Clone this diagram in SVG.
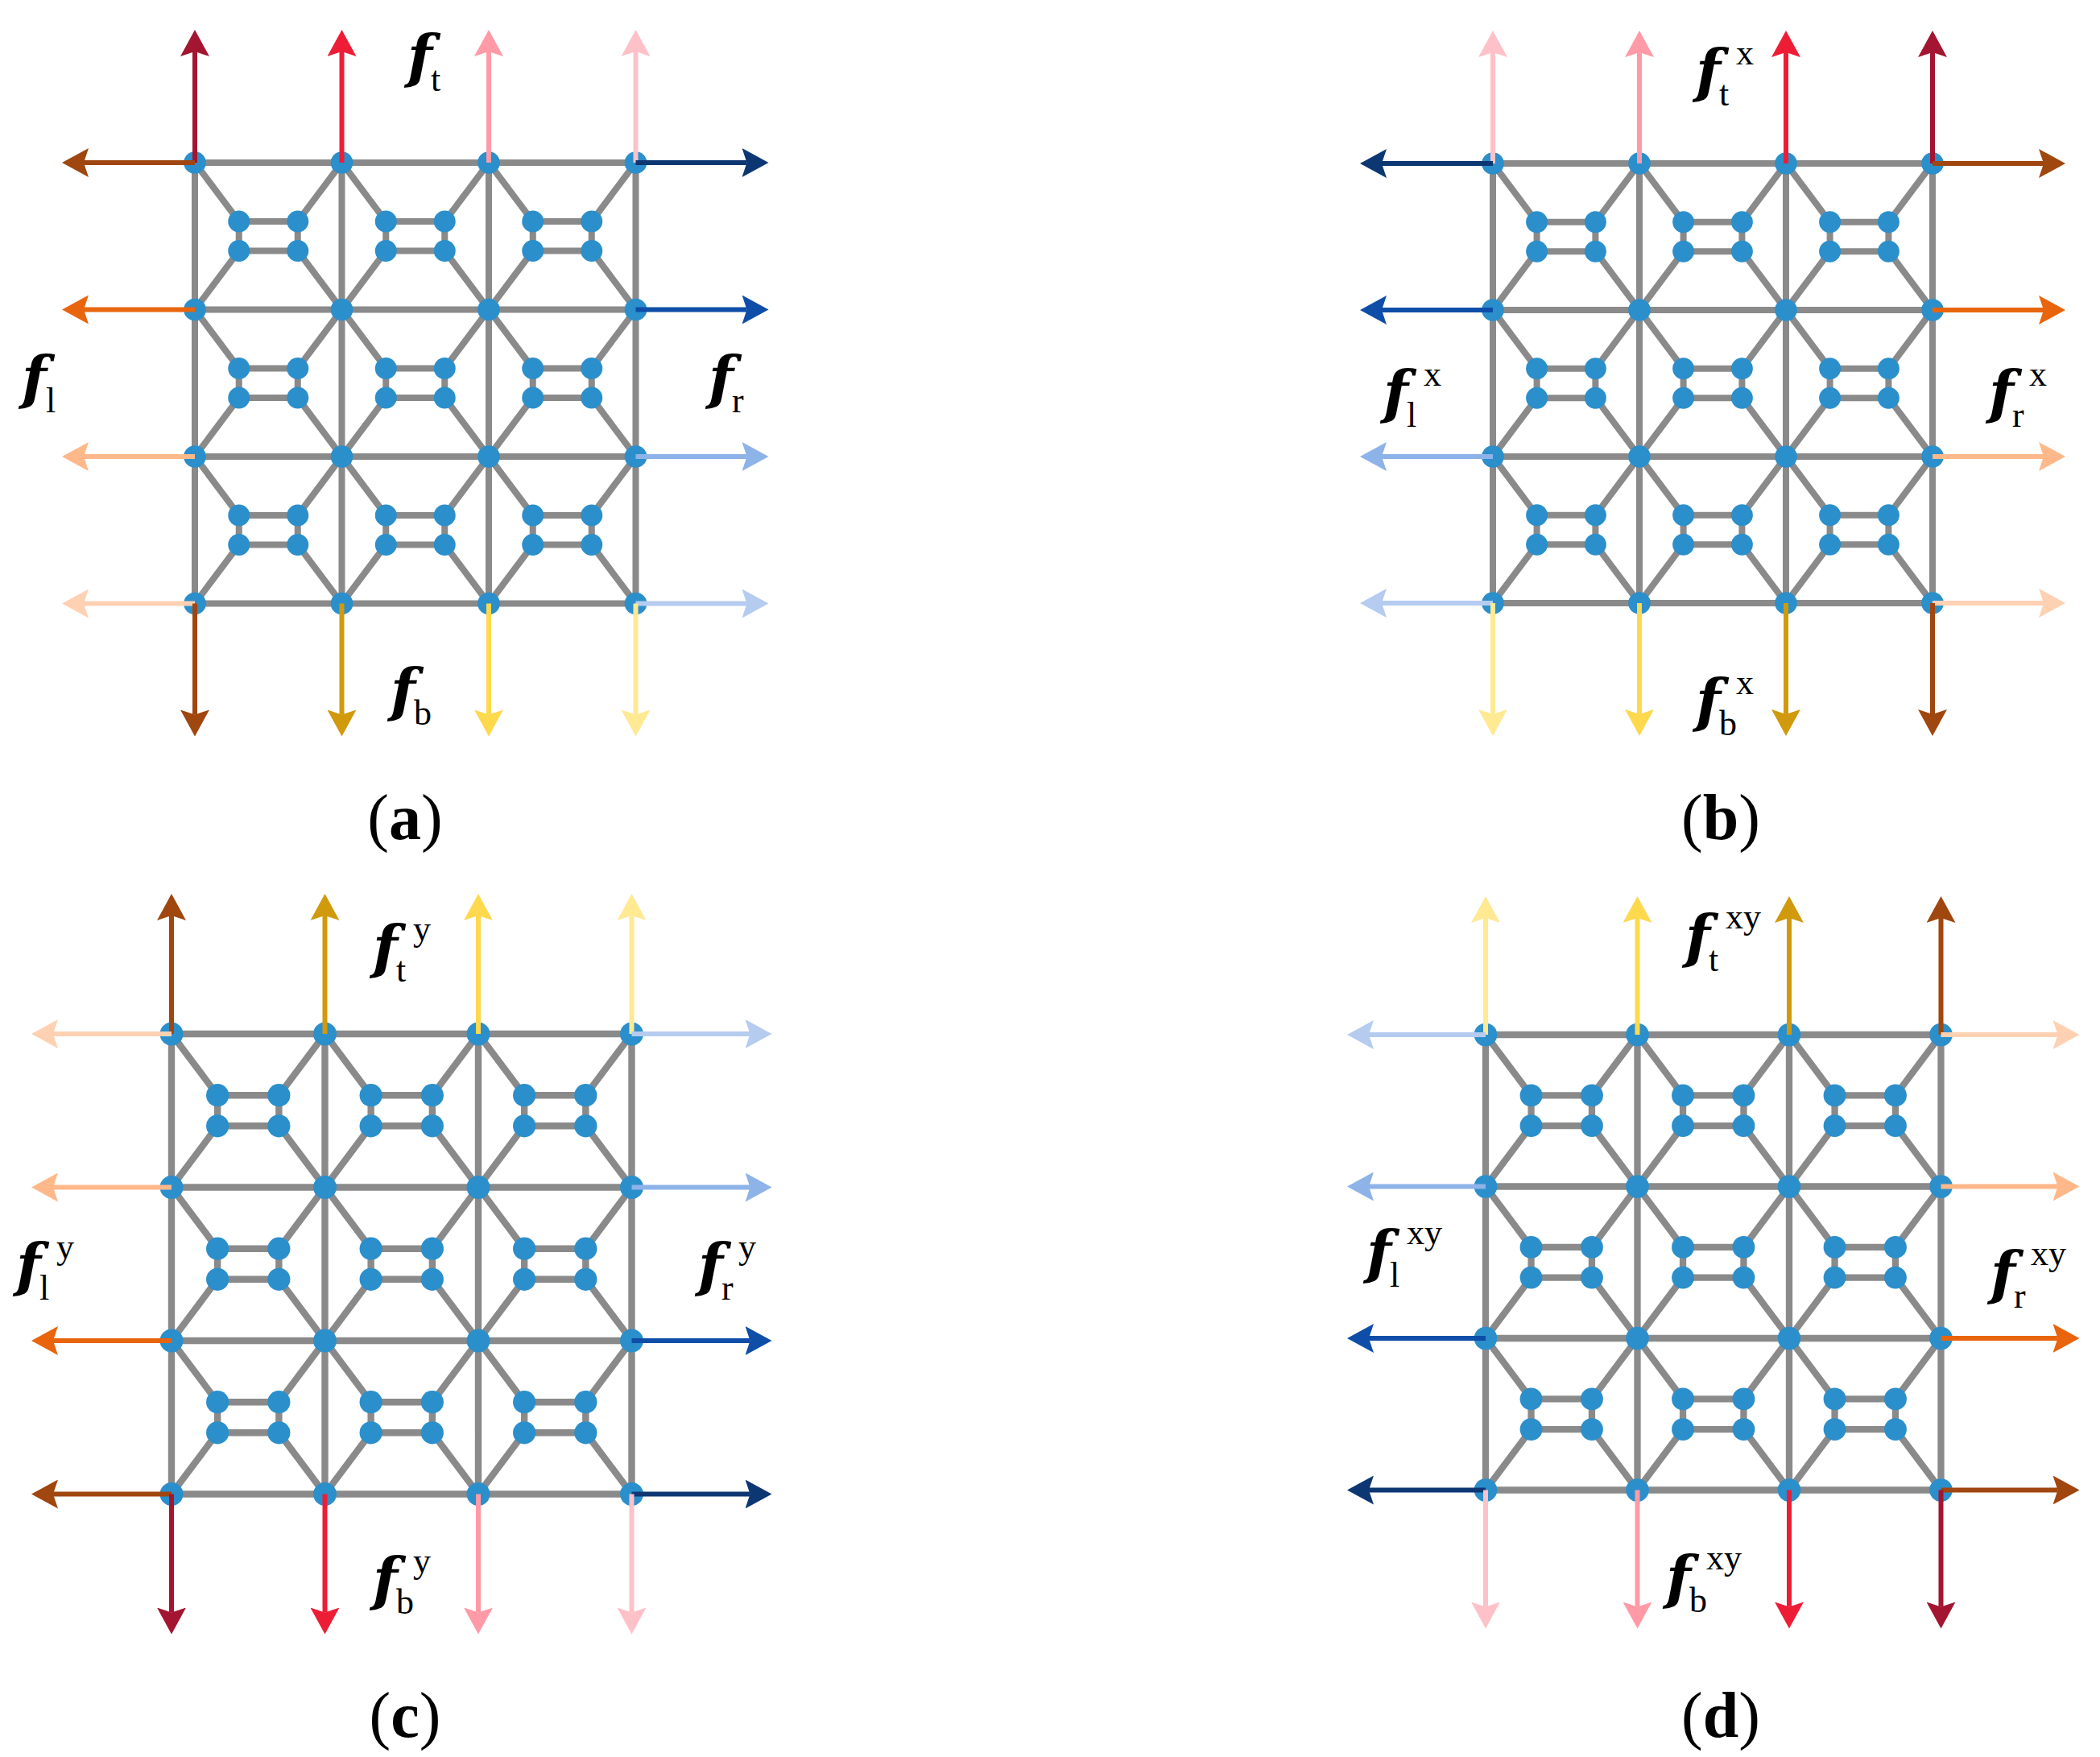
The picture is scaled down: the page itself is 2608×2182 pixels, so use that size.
<svg xmlns="http://www.w3.org/2000/svg" width="2608" height="2182" viewBox="0 0 2608 2182">
<style>
.g{fill:none;stroke:#8a8a8a;stroke-width:4.4;stroke-linecap:round;stroke-linejoin:round}
.n{fill:#2b8fcc}
.ar{stroke-width:6;fill:none}
.T1{stroke:#a31530}.T2{stroke:#ee1d36}.T3{stroke:#ff9aa6}.T4{stroke:#ffc1c8}
.L1{stroke:#a0460f}.L2{stroke:#e8650d}.L3{stroke:#ffb889}.L4{stroke:#ffd1b3}
.R1{stroke:#0d3772}.R2{stroke:#0e4ea8}.R3{stroke:#8db3e8}.R4{stroke:#b5ccf0}
.B2{stroke:#d19a0c}.B3{stroke:#ffd94d}.B4{stroke:#ffe993}
.f{font-family:"DejaVu Serif",serif;font-style:italic;font-weight:bold;font-size:72px;fill:#000}
.s{font-family:"Liberation Serif",serif;font-size:44px;fill:#000}
.cap{font-family:"Liberation Serif",serif;font-size:80px;fill:#000;text-anchor:middle}
</style>
<defs>
<marker id="mT1" viewBox="0 0 33 36" refX="6" refY="18" markerWidth="33" markerHeight="36" markerUnits="userSpaceOnUse" orient="auto"><path d="M0,0L33,18L0,36L6,18Z" fill="#a31530"/></marker>
<marker id="mT2" viewBox="0 0 33 36" refX="6" refY="18" markerWidth="33" markerHeight="36" markerUnits="userSpaceOnUse" orient="auto"><path d="M0,0L33,18L0,36L6,18Z" fill="#ee1d36"/></marker>
<marker id="mT3" viewBox="0 0 33 36" refX="6" refY="18" markerWidth="33" markerHeight="36" markerUnits="userSpaceOnUse" orient="auto"><path d="M0,0L33,18L0,36L6,18Z" fill="#ff9aa6"/></marker>
<marker id="mT4" viewBox="0 0 33 36" refX="6" refY="18" markerWidth="33" markerHeight="36" markerUnits="userSpaceOnUse" orient="auto"><path d="M0,0L33,18L0,36L6,18Z" fill="#ffc1c8"/></marker>
<marker id="mL1" viewBox="0 0 33 36" refX="6" refY="18" markerWidth="33" markerHeight="36" markerUnits="userSpaceOnUse" orient="auto"><path d="M0,0L33,18L0,36L6,18Z" fill="#a0460f"/></marker>
<marker id="mL2" viewBox="0 0 33 36" refX="6" refY="18" markerWidth="33" markerHeight="36" markerUnits="userSpaceOnUse" orient="auto"><path d="M0,0L33,18L0,36L6,18Z" fill="#e8650d"/></marker>
<marker id="mL3" viewBox="0 0 33 36" refX="6" refY="18" markerWidth="33" markerHeight="36" markerUnits="userSpaceOnUse" orient="auto"><path d="M0,0L33,18L0,36L6,18Z" fill="#ffb889"/></marker>
<marker id="mL4" viewBox="0 0 33 36" refX="6" refY="18" markerWidth="33" markerHeight="36" markerUnits="userSpaceOnUse" orient="auto"><path d="M0,0L33,18L0,36L6,18Z" fill="#ffd1b3"/></marker>
<marker id="mR1" viewBox="0 0 33 36" refX="6" refY="18" markerWidth="33" markerHeight="36" markerUnits="userSpaceOnUse" orient="auto"><path d="M0,0L33,18L0,36L6,18Z" fill="#0d3772"/></marker>
<marker id="mR2" viewBox="0 0 33 36" refX="6" refY="18" markerWidth="33" markerHeight="36" markerUnits="userSpaceOnUse" orient="auto"><path d="M0,0L33,18L0,36L6,18Z" fill="#0e4ea8"/></marker>
<marker id="mR3" viewBox="0 0 33 36" refX="6" refY="18" markerWidth="33" markerHeight="36" markerUnits="userSpaceOnUse" orient="auto"><path d="M0,0L33,18L0,36L6,18Z" fill="#8db3e8"/></marker>
<marker id="mR4" viewBox="0 0 33 36" refX="6" refY="18" markerWidth="33" markerHeight="36" markerUnits="userSpaceOnUse" orient="auto"><path d="M0,0L33,18L0,36L6,18Z" fill="#b5ccf0"/></marker>
<marker id="mB2" viewBox="0 0 33 36" refX="6" refY="18" markerWidth="33" markerHeight="36" markerUnits="userSpaceOnUse" orient="auto"><path d="M0,0L33,18L0,36L6,18Z" fill="#d19a0c"/></marker>
<marker id="mB3" viewBox="0 0 33 36" refX="6" refY="18" markerWidth="33" markerHeight="36" markerUnits="userSpaceOnUse" orient="auto"><path d="M0,0L33,18L0,36L6,18Z" fill="#ffd94d"/></marker>
<marker id="mB4" viewBox="0 0 33 36" refX="6" refY="18" markerWidth="33" markerHeight="36" markerUnits="userSpaceOnUse" orient="auto"><path d="M0,0L33,18L0,36L6,18Z" fill="#ffe993"/></marker>
<g id="lattice">
<path class="g" d="M0,0H300M0,100H300M0,200H300M0,300H300M0,0V300M100,0V300M200,0V300M300,0V300
M0,0L30,40H70L100,0M0,100L30,60H70L100,100M30,40V60M70,40V60
M100,0L130,40H170L200,0M100,100L130,60H170L200,100M130,40V60M170,40V60
M200,0L230,40H270L300,0M200,100L230,60H270L300,100M230,40V60M270,40V60
M0,100L30,140H70L100,100M0,200L30,160H70L100,200M30,140V160M70,140V160
M100,100L130,140H170L200,100M100,200L130,160H170L200,200M130,140V160M170,140V160
M200,100L230,140H270L300,100M200,200L230,160H270L300,200M230,140V160M270,140V160
M0,200L30,240H70L100,200M0,300L30,260H70L100,300M30,240V260M70,240V260
M100,200L130,240H170L200,200M100,300L130,260H170L200,300M130,240V260M170,240V260
M200,200L230,240H270L300,200M200,300L230,260H270L300,300M230,240V260M270,240V260"/>
<g class="n">
<circle cx="0" cy="0" r="7.6"/><circle cx="100" cy="0" r="7.6"/><circle cx="200" cy="0" r="7.6"/><circle cx="300" cy="0" r="7.6"/>
<circle cx="0" cy="100" r="7.6"/><circle cx="100" cy="100" r="7.6"/><circle cx="200" cy="100" r="7.6"/><circle cx="300" cy="100" r="7.6"/>
<circle cx="0" cy="200" r="7.6"/><circle cx="100" cy="200" r="7.6"/><circle cx="200" cy="200" r="7.6"/><circle cx="300" cy="200" r="7.6"/>
<circle cx="0" cy="300" r="7.6"/><circle cx="100" cy="300" r="7.6"/><circle cx="200" cy="300" r="7.6"/><circle cx="300" cy="300" r="7.6"/>
<circle cx="30" cy="40" r="7.4"/><circle cx="70" cy="40" r="7.4"/><circle cx="30" cy="60" r="7.4"/><circle cx="70" cy="60" r="7.4"/>
<circle cx="130" cy="40" r="7.4"/><circle cx="170" cy="40" r="7.4"/><circle cx="130" cy="60" r="7.4"/><circle cx="170" cy="60" r="7.4"/>
<circle cx="230" cy="40" r="7.4"/><circle cx="270" cy="40" r="7.4"/><circle cx="230" cy="60" r="7.4"/><circle cx="270" cy="60" r="7.4"/>
<circle cx="30" cy="140" r="7.4"/><circle cx="70" cy="140" r="7.4"/><circle cx="30" cy="160" r="7.4"/><circle cx="70" cy="160" r="7.4"/>
<circle cx="130" cy="140" r="7.4"/><circle cx="170" cy="140" r="7.4"/><circle cx="130" cy="160" r="7.4"/><circle cx="170" cy="160" r="7.4"/>
<circle cx="230" cy="140" r="7.4"/><circle cx="270" cy="140" r="7.4"/><circle cx="230" cy="160" r="7.4"/><circle cx="270" cy="160" r="7.4"/>
<circle cx="30" cy="240" r="7.4"/><circle cx="70" cy="240" r="7.4"/><circle cx="30" cy="260" r="7.4"/><circle cx="70" cy="260" r="7.4"/>
<circle cx="130" cy="240" r="7.4"/><circle cx="170" cy="240" r="7.4"/><circle cx="130" cy="260" r="7.4"/><circle cx="170" cy="260" r="7.4"/>
<circle cx="230" cy="240" r="7.4"/><circle cx="270" cy="240" r="7.4"/><circle cx="230" cy="260" r="7.4"/><circle cx="270" cy="260" r="7.4"/>
</g>
</g>
</defs>
<rect width="2608" height="2182" fill="#fff"/>

<g id="panel-a">
<use href="#lattice" transform="translate(242,202) scale(1.825)"/>
<g id="arrows-a" class="ar">
<line class="T1" x1="242" y1="202" x2="242" y2="64" marker-end="url(#mT1)"/>
<line class="T2" x1="424.5" y1="202" x2="424.5" y2="64" marker-end="url(#mT2)"/>
<line class="T3" x1="607" y1="202" x2="607" y2="64" marker-end="url(#mT3)"/>
<line class="T4" x1="789.5" y1="202" x2="789.5" y2="64" marker-end="url(#mT4)"/>
<line class="L1" x1="242" y1="202" x2="104" y2="202" marker-end="url(#mL1)"/>
<line class="L2" x1="242" y1="384.5" x2="104" y2="384.5" marker-end="url(#mL2)"/>
<line class="L3" x1="242" y1="567" x2="104" y2="567" marker-end="url(#mL3)"/>
<line class="L4" x1="242" y1="749.5" x2="104" y2="749.5" marker-end="url(#mL4)"/>
<line class="R1" x1="789.5" y1="202" x2="927.5" y2="202" marker-end="url(#mR1)"/>
<line class="R2" x1="789.5" y1="384.5" x2="927.5" y2="384.5" marker-end="url(#mR2)"/>
<line class="R3" x1="789.5" y1="567" x2="927.5" y2="567" marker-end="url(#mR3)"/>
<line class="R4" x1="789.5" y1="749.5" x2="927.5" y2="749.5" marker-end="url(#mR4)"/>
<line class="L1" x1="242" y1="749.5" x2="242" y2="887.5" marker-end="url(#mL1)"/>
<line class="B2" x1="424.5" y1="749.5" x2="424.5" y2="887.5" marker-end="url(#mB2)"/>
<line class="B3" x1="607" y1="749.5" x2="607" y2="887.5" marker-end="url(#mB3)"/>
<line class="B4" x1="789.5" y1="749.5" x2="789.5" y2="887.5" marker-end="url(#mB4)"/>
</g>
<g id="labels-a">
<text class="f" x="506" y="96">f</text><text class="s" x="535" y="113">t</text>
<text class="f" x="27" y="495">f</text><text class="s" x="57" y="512">l</text>
<text class="f" x="880" y="495">f</text><text class="s" x="909" y="512">r</text>
<text class="f" x="485" y="883">f</text><text class="s" x="514" y="900">b</text>
<text class="cap" x="503" y="1042">(<tspan font-weight="bold">a</tspan>)</text>
</g>
</g>

<g id="panel-b">
<use href="#lattice" transform="translate(1854,203) scale(1.82)"/>
<g id="arrows-b" class="ar">
<line class="T4" x1="1854" y1="203" x2="1854" y2="65" marker-end="url(#mT4)"/>
<line class="T3" x1="2036" y1="203" x2="2036" y2="65" marker-end="url(#mT3)"/>
<line class="T2" x1="2218" y1="203" x2="2218" y2="65" marker-end="url(#mT2)"/>
<line class="T1" x1="2400" y1="203" x2="2400" y2="65" marker-end="url(#mT1)"/>
<line class="R1" x1="1854" y1="203" x2="1716" y2="203" marker-end="url(#mR1)"/>
<line class="R2" x1="1854" y1="385" x2="1716" y2="385" marker-end="url(#mR2)"/>
<line class="R3" x1="1854" y1="567" x2="1716" y2="567" marker-end="url(#mR3)"/>
<line class="R4" x1="1854" y1="749" x2="1716" y2="749" marker-end="url(#mR4)"/>
<line class="L1" x1="2400" y1="203" x2="2538" y2="203" marker-end="url(#mL1)"/>
<line class="L2" x1="2400" y1="385" x2="2538" y2="385" marker-end="url(#mL2)"/>
<line class="L3" x1="2400" y1="567" x2="2538" y2="567" marker-end="url(#mL3)"/>
<line class="L4" x1="2400" y1="749" x2="2538" y2="749" marker-end="url(#mL4)"/>
<line class="B4" x1="1854" y1="749" x2="1854" y2="887" marker-end="url(#mB4)"/>
<line class="B3" x1="2036" y1="749" x2="2036" y2="887" marker-end="url(#mB3)"/>
<line class="B2" x1="2218" y1="749" x2="2218" y2="887" marker-end="url(#mB2)"/>
<line class="L1" x1="2400" y1="749" x2="2400" y2="887" marker-end="url(#mL1)"/>
</g>
<g id="labels-b">
<text class="f" x="2106" y="114">f</text><text class="s" x="2135" y="131">t</text><text class="s" x="2156" y="80">x</text>
<text class="f" x="1718" y="513">f</text><text class="s" x="1747" y="530">l</text><text class="s" x="1768" y="479">x</text>
<text class="f" x="2470" y="513">f</text><text class="s" x="2499" y="530">r</text><text class="s" x="2520" y="479">x</text>
<text class="f" x="2106" y="896">f</text><text class="s" x="2135" y="913">b</text><text class="s" x="2156" y="862">x</text>
<text class="cap" x="2137" y="1042">(<tspan font-weight="bold">b</tspan>)</text>
</g>
</g>

<g id="panel-c">
<use href="#lattice" transform="translate(213,1284) scale(1.905)"/>
<g id="arrows-c" class="ar">
<line class="L1" x1="213" y1="1284" x2="213" y2="1137" marker-end="url(#mL1)"/>
<line class="B2" x1="403.5" y1="1284" x2="403.5" y2="1137" marker-end="url(#mB2)"/>
<line class="B3" x1="594" y1="1284" x2="594" y2="1137" marker-end="url(#mB3)"/>
<line class="B4" x1="784.5" y1="1284" x2="784.5" y2="1137" marker-end="url(#mB4)"/>
<line class="L4" x1="213" y1="1284" x2="66" y2="1284" marker-end="url(#mL4)"/>
<line class="L3" x1="213" y1="1474.5" x2="66" y2="1474.5" marker-end="url(#mL3)"/>
<line class="L2" x1="213" y1="1665" x2="66" y2="1665" marker-end="url(#mL2)"/>
<line class="L1" x1="213" y1="1855.5" x2="66" y2="1855.5" marker-end="url(#mL1)"/>
<line class="R4" x1="784.5" y1="1284" x2="931.5" y2="1284" marker-end="url(#mR4)"/>
<line class="R3" x1="784.5" y1="1474.5" x2="931.5" y2="1474.5" marker-end="url(#mR3)"/>
<line class="R2" x1="784.5" y1="1665" x2="931.5" y2="1665" marker-end="url(#mR2)"/>
<line class="R1" x1="784.5" y1="1855.5" x2="931.5" y2="1855.5" marker-end="url(#mR1)"/>
<line class="T1" x1="213" y1="1855.5" x2="213" y2="2002.5" marker-end="url(#mT1)"/>
<line class="T2" x1="403.5" y1="1855.5" x2="403.5" y2="2002.5" marker-end="url(#mT2)"/>
<line class="T3" x1="594" y1="1855.5" x2="594" y2="2002.5" marker-end="url(#mT3)"/>
<line class="T4" x1="784.5" y1="1855.5" x2="784.5" y2="2002.5" marker-end="url(#mT4)"/>
</g>
<g id="labels-c">
<text class="f" x="463" y="1202">f</text><text class="s" x="492" y="1219">t</text><text class="s" x="513" y="1168">y</text>
<text class="f" x="20" y="1597">f</text><text class="s" x="49" y="1614">l</text><text class="s" x="70" y="1563">y</text>
<text class="f" x="867" y="1597">f</text><text class="s" x="896" y="1614">r</text><text class="s" x="917" y="1563">y</text>
<text class="f" x="463" y="1987">f</text><text class="s" x="492" y="2004">b</text><text class="s" x="513" y="1953">y</text>
<text class="cap" x="503" y="2157">(<tspan font-weight="bold">c</tspan>)</text>
</g>
</g>

<g id="panel-d">
<use href="#lattice" transform="translate(1845,1285) scale(1.885)"/>
<g id="arrows-d" class="ar">
<line class="B4" x1="1845" y1="1285" x2="1845" y2="1140" marker-end="url(#mB4)"/>
<line class="B3" x1="2033.5" y1="1285" x2="2033.5" y2="1140" marker-end="url(#mB3)"/>
<line class="B2" x1="2222" y1="1285" x2="2222" y2="1140" marker-end="url(#mB2)"/>
<line class="L1" x1="2410.5" y1="1285" x2="2410.5" y2="1140" marker-end="url(#mL1)"/>
<line class="R4" x1="1845" y1="1285" x2="1700" y2="1285" marker-end="url(#mR4)"/>
<line class="R3" x1="1845" y1="1473.5" x2="1700" y2="1473.5" marker-end="url(#mR3)"/>
<line class="R2" x1="1845" y1="1662" x2="1700" y2="1662" marker-end="url(#mR2)"/>
<line class="R1" x1="1845" y1="1850.5" x2="1700" y2="1850.5" marker-end="url(#mR1)"/>
<line class="L4" x1="2410.5" y1="1285" x2="2555.5" y2="1285" marker-end="url(#mL4)"/>
<line class="L3" x1="2410.5" y1="1473.5" x2="2555.5" y2="1473.5" marker-end="url(#mL3)"/>
<line class="L2" x1="2410.5" y1="1662" x2="2555.5" y2="1662" marker-end="url(#mL2)"/>
<line class="L1" x1="2410.5" y1="1850.5" x2="2555.5" y2="1850.5" marker-end="url(#mL1)"/>
<line class="T4" x1="1845" y1="1850.5" x2="1845" y2="1995.5" marker-end="url(#mT4)"/>
<line class="T3" x1="2033.5" y1="1850.5" x2="2033.5" y2="1995.5" marker-end="url(#mT3)"/>
<line class="T2" x1="2222" y1="1850.5" x2="2222" y2="1995.5" marker-end="url(#mT2)"/>
<line class="T1" x1="2410.5" y1="1850.5" x2="2410.5" y2="1995.5" marker-end="url(#mT1)"/>
</g>
<g id="labels-d">
<text class="f" x="2093" y="1189">f</text><text class="s" x="2122" y="1206">t</text><text class="s" x="2143" y="1153">xy</text>
<text class="f" x="1697" y="1581">f</text><text class="s" x="1726" y="1598">l</text><text class="s" x="1747" y="1545">xy</text>
<text class="f" x="2472" y="1607">f</text><text class="s" x="2501" y="1624">r</text><text class="s" x="2522" y="1571">xy</text>
<text class="f" x="2069" y="1985">f</text><text class="s" x="2098" y="2002">b</text><text class="s" x="2119" y="1949">xy</text>
<text class="cap" x="2137" y="2157">(<tspan font-weight="bold">d</tspan>)</text>
</g>
</g>
</svg>
